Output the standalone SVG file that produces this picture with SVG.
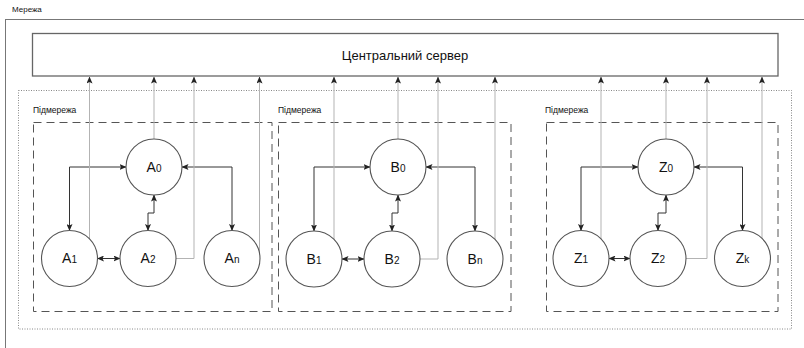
<svg xmlns="http://www.w3.org/2000/svg" width="804" height="348" viewBox="0 0 804 348">
<style>
.lbl{font-family:"Liberation Sans",Arial,sans-serif;fill:#111}
.small{font-size:8.5px}
.node circle{fill:#fff;stroke:#555;stroke-width:1.1}
.node text{font-family:"Liberation Sans",Arial,sans-serif;font-size:14px;fill:#111;text-anchor:middle}
.node tspan.s{font-size:10px}
.bi{fill:none;stroke:#333;stroke-width:1;marker-start:url(#ah);marker-end:url(#ah)}
.up{fill:none;stroke:#b3b3b3;stroke-width:1;marker-end:url(#ah)}
.subnet{fill:none;stroke:#555;stroke-width:1;stroke-dasharray:8 5}
</style>
<defs>
<marker id="ah" viewBox="0 0 7 6" refX="6.5" refY="3" markerWidth="7" markerHeight="6" markerUnits="userSpaceOnUse" orient="auto-start-reverse">
<path d="M0,0 L7,3 L0,6 L1.5,3 Z" fill="#222"/>
</marker>
</defs>
<rect width="804" height="348" fill="#fff"/>
<g id="network">
<rect x="5.5" y="19.5" width="830" height="360" fill="none" stroke="#777" stroke-width="1"/>
<text class="lbl" x="12" y="12" font-size="8px">Мережа</text>
</g>
<g id="server">
<rect x="32.5" y="33.5" width="745.5" height="42.5" fill="#fff" stroke="#666" stroke-width="1.3"/>
<text class="lbl" x="405" y="60" font-size="13px" text-anchor="middle">Центральний сервер</text>
</g>
<g id="area">
<rect x="18.5" y="90.5" width="773" height="238.5" fill="none" stroke="#888" stroke-width="1" stroke-dasharray="1 1.5"/>
</g>
<g id="subnet-a">
<rect class="subnet" x="33.5" y="122.5" width="238.5" height="189"/>
<text class="lbl small" x="33" y="113">Підмережа</text>
</g>
<g id="subnet-b">
<rect class="subnet" x="278.5" y="122.5" width="232.5" height="189"/>
<text class="lbl small" x="278" y="113">Підмережа</text>
</g>
<g id="subnet-z">
<rect class="subnet" x="546.5" y="122.5" width="231.5" height="189"/>
<text class="lbl small" x="545" y="113">Підмережа</text>
</g>
<g id="connectors">
<path class="bi" d="M126,167 H69.5 V230.5"/>
<path class="bi" d="M182,167 H232 V230.5"/>
<path class="bi" d="M154,195 V213 H148 V230.5"/>
<path class="bi" d="M97.5,258.5 H120"/>
<path class="up" d="M89.5,239 V77"/>
<path class="up" d="M154,139 V77"/>
<path class="up" d="M176,258.5 H194 V77"/>
<path class="up" d="M259.5,253 V77"/>
<path class="bi" d="M370,167 H314 V231"/>
<path class="bi" d="M426,167 H475 V231"/>
<path class="bi" d="M398,195 V213 H392 V231"/>
<path class="bi" d="M342,259 H364"/>
<path class="up" d="M334,240 V77"/>
<path class="up" d="M398,139 V77"/>
<path class="up" d="M420,259 H438 V77"/>
<path class="up" d="M495,240 V77"/>
<path class="bi" d="M638,167 H581 V230.5"/>
<path class="bi" d="M694,167 H742.5 V230.5"/>
<path class="bi" d="M666,195 V213 H658 V230.5"/>
<path class="bi" d="M609,258.5 H630"/>
<path class="up" d="M601,239 V77"/>
<path class="up" d="M666,139 V77"/>
<path class="up" d="M686,258.5 H707 V77"/>
<path class="up" d="M762,240 V77"/>
</g>
<g id="A0" class="node"><circle cx="154" cy="167" r="28"/><text x="154" y="171.5">A<tspan class="s">0</tspan></text></g>
<g id="A1" class="node"><circle cx="69.5" cy="258.5" r="28"/><text x="69.5" y="263">A<tspan class="s">1</tspan></text></g>
<g id="A2" class="node"><circle cx="148" cy="258.5" r="28"/><text x="148" y="263">A<tspan class="s">2</tspan></text></g>
<g id="An" class="node"><circle cx="232" cy="258.5" r="28"/><text x="232" y="263">A<tspan class="s">n</tspan></text></g>
<g id="B0" class="node"><circle cx="398" cy="167" r="28"/><text x="398" y="171.5">B<tspan class="s">0</tspan></text></g>
<g id="B1" class="node"><circle cx="314" cy="259" r="28"/><text x="314" y="263.5">B<tspan class="s">1</tspan></text></g>
<g id="B2" class="node"><circle cx="392" cy="259" r="28"/><text x="392" y="263.5">B<tspan class="s">2</tspan></text></g>
<g id="Bn" class="node"><circle cx="475" cy="259" r="28"/><text x="475" y="263.5">B<tspan class="s">n</tspan></text></g>
<g id="Z0" class="node"><circle cx="666" cy="167" r="28"/><text x="666" y="171.5">Z<tspan class="s">0</tspan></text></g>
<g id="Z1" class="node"><circle cx="581" cy="258.5" r="28"/><text x="581" y="263">Z<tspan class="s">1</tspan></text></g>
<g id="Z2" class="node"><circle cx="658" cy="258.5" r="28"/><text x="658" y="263">Z<tspan class="s">2</tspan></text></g>
<g id="Zk" class="node"><circle cx="742.5" cy="258.5" r="28"/><text x="742.5" y="263">Z<tspan class="s">k</tspan></text></g>
</svg>
